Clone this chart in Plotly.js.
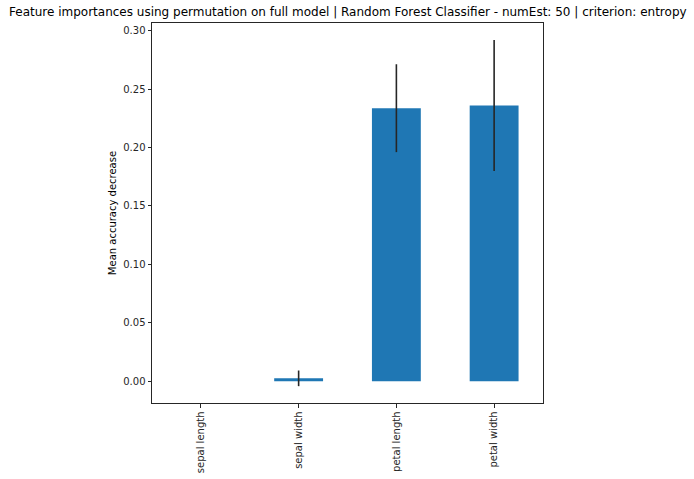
<!DOCTYPE html>
<html>
<head>
<meta charset="utf-8">
<script src="https://cdn.plot.ly/plotly-3.0.1.min.js"></script>
<style>
  html, body { margin: 0; padding: 0; background: #fff; }
  #plot { width: 694px; height: 479px; }
</style>
</head>
<body>
<div id="plot"></div>
<script>
// feature names and permutation importances (mean / std)
var features = ["sepal length", "sepal width", "petal length", "petal width"];
var importances = [0.0, 0.0025, 0.2337, 0.2360];
var stds = [0.0, 0.0067, 0.0376, 0.0560];
var yTicks = [0.00, 0.05, 0.10, 0.15, 0.20, 0.25, 0.30];
var yTickText = ["0.00", "0.05", "0.10", "0.15", "0.20", "0.25", "0.30"];

var trace = {
  x: features,
  y: importances,
  type: "bar",
  width: 0.5,
  marker: { color: "#1f77b4" },
  error_y: { type: "data", array: stds, visible: true, color: "#262626", thickness: 1.6, width: 0 },
  hoverinfo: "none"
};

var layout = {
  width: 694,
  height: 479,
  margin: { l: 152, r: 151, t: 23, b: 76 },
  paper_bgcolor: "#fff",
  plot_bgcolor: "#fff",
  font: { family: "DejaVu Sans, sans-serif", size: 10, color: "#262626" },
  title: {
    text: "Feature importances using permutation on full model | Random Forest Classifier - numEst: 50 | criterion: entropy",
    font: { size: 12, color: "#000" },
    x: 0.5012, xanchor: "center", y: 0.975, yanchor: "middle"
  },
  xaxis: {
    range: [-0.5, 3.5],
    tickangle: -90,
    ticks: "outside", ticklen: 3.5, tickcolor: "#262626",
    showline: true, linecolor: "#262626", linewidth: 1, mirror: true,
    showgrid: false, zeroline: false
  },
  yaxis: {
    range: [-0.0186, 0.3066],
    tickvals: yTicks, ticktext: yTickText,
    ticks: "outside", ticklen: 3.5, tickcolor: "#262626",
    showline: true, linecolor: "#262626", linewidth: 1, mirror: true,
    showgrid: false, zeroline: false,
    title: { text: "Mean accuracy decrease", font: { size: 10, color: "#000" }, standoff: 4 }
  },
  showlegend: false,
  bargap: 0.5
};

Plotly.newPlot("plot", [trace], layout, { displayModeBar: false, staticPlot: true });
</script>
</body>
</html>
